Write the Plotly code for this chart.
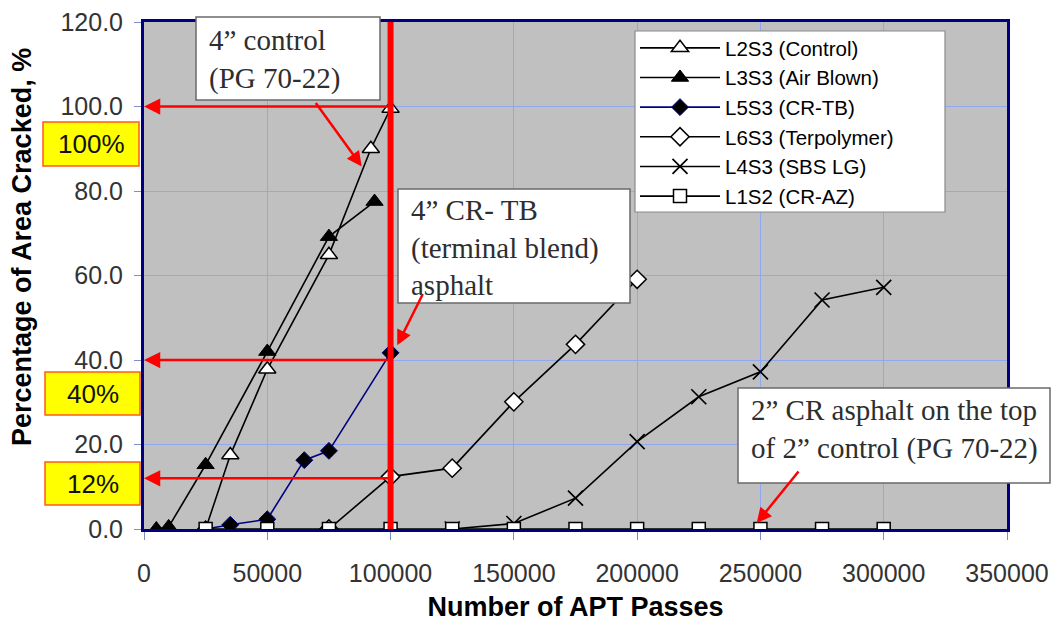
import plotly.graph_objects as go

# ---------------- data ----------------
l2s3_x = [25000, 35000, 50000, 75000, 92000, 100000]
l2s3_y = [0, 17.5, 37.8, 64.9, 90.0, 99.5]

l3s3_x = [5000, 10000, 25000, 50000, 75000, 93500]
l3s3_y = [0, 0.5, 15.2, 42.0, 69.2, 77.5]

l5s3_x = [25000, 35000, 50000, 65000, 75000, 100000]
l5s3_y = [0, 1.0, 2.3, 16.3, 18.5, 41.7]

l6s3_x = [75000, 100000, 125000, 150000, 175000, 200000]
l6s3_y = [0, 12.4, 14.4, 30.1, 43.7, 59.1]

l4s3_x = [125000, 150000, 175000, 200000, 225000, 250000, 275000, 300000]
l4s3_y = [0, 1.3, 7.3, 20.7, 31.3, 37.2, 54.2, 57.2]

l1s2_x = [25000, 50000, 75000, 100000, 125000, 150000, 175000, 200000,
          225000, 250000, 275000, 300000]
l1s2_y = [0, 0, 0, 0, 0, 0, 0, 0, 0, 0, 0, 0]

series_names = ["L2S3 (Control)", "L3S3 (Air Blown)", "L5S3 (CR-TB)",
                "L6S3 (Terpolymer)", "L4S3 (SBS LG)", "L1S2 (CR-AZ)"]

cutoff_passes = 100000
highlight_levels = [100, 40, 12]
highlight_labels = ["100%", "40%", "12%"]

x_ticks = [0, 50000, 100000, 150000, 200000, 250000, 300000, 350000]
y_ticks = [0, 20, 40, 60, 80, 100, 120]

x_title = "Number of APT Passes"
y_title = "Percentage of Area Cracked, %"

# ---------------- layout geometry ----------------
W, H = 1055, 625
ML, MR, MT, MB = 144, 48, 22, 96
PW = W - ML - MR
PH = H - MT - MB


def px(x):
    return (x - ML) / PW


def py(y):
    return (H - MB - y) / PH


fig = go.Figure()

line_w = 1.6
fig.add_trace(go.Scatter(
    x=l2s3_x, y=l2s3_y, name=series_names[0], mode="lines+markers",
    line=dict(color="black", width=line_w),
    marker=dict(symbol="triangle-up", size=15, color="white",
                line=dict(color="black", width=1.5))))
fig.add_trace(go.Scatter(
    x=l3s3_x, y=l3s3_y, name=series_names[1], mode="lines+markers",
    line=dict(color="black", width=line_w),
    marker=dict(symbol="triangle-up", size=15, color="black",
                line=dict(color="black", width=1))))
fig.add_trace(go.Scatter(
    x=l5s3_x, y=l5s3_y, name=series_names[2], mode="lines+markers",
    line=dict(color="#000080", width=line_w),
    marker=dict(symbol="diamond", size=13, color="black",
                line=dict(color="#000080", width=1))))
fig.add_trace(go.Scatter(
    x=l6s3_x, y=l6s3_y, name=series_names[3], mode="lines+markers",
    line=dict(color="black", width=line_w),
    marker=dict(symbol="diamond", size=14, color="white",
                line=dict(color="black", width=1.5))))
fig.add_trace(go.Scatter(
    x=l4s3_x, y=l4s3_y, name=series_names[4], mode="lines+markers",
    line=dict(color="black", width=line_w),
    marker=dict(symbol="x-thin", size=15, color="black",
                line=dict(color="black", width=1.7))))
fig.add_trace(go.Scatter(
    x=l1s2_x, y=l1s2_y, name=series_names[5], mode="lines+markers",
    line=dict(color="black", width=line_w),
    marker=dict(symbol="square", size=13, color="white",
                line=dict(color="black", width=1.5))))

shapes = []
annotations = []

# vertical red cutoff line
shapes.append(dict(type="line", xref="x", yref="y", x0=cutoff_passes, x1=cutoff_passes,
                   y0=0, y1=y_ticks[-1], line=dict(color="#FF0000", width=6), layer="above"))

# legend frame (legend itself drawn on top, transparent)
shapes.append(dict(type="rect", xref="paper", yref="paper",
                   x0=px(635), x1=px(945), y0=py(212), y1=py(31),
                   fillcolor="white", line=dict(color="#8a8a8a", width=1.2),
                   layer="above"))

# horizontal red arrows to y-axis
for lvl in highlight_levels:
    annotations.append(dict(x=0, y=lvl, ax=cutoff_passes, ay=lvl, xref="x", yref="y",
                            axref="x", ayref="y", text="", showarrow=True,
                            arrowhead=2, arrowsize=1.3, arrowwidth=2.5,
                            arrowcolor="#FF0000"))

# yellow percentage boxes
yellow_boxes = [(43, 122, 139, 166), (45, 372, 140, 415), (45, 462, 140, 505)]
for (x0, y0, x1, y1), lab in zip(yellow_boxes, highlight_labels):
    shapes.append(dict(type="rect", xref="paper", yref="paper",
                       x0=px(x0), x1=px(x1), y0=py(y1), y1=py(y0),
                       fillcolor="#FFFF00", line=dict(color="#FF5A1E", width=1.5),
                       layer="above"))
    annotations.append(dict(x=px((x0 + x1) / 2), y=py((y0 + y1) / 2), xref="paper",
                            yref="paper", text=lab, showarrow=False,
                            xanchor="center", yanchor="middle",
                            font=dict(family="Liberation Sans, Arial", size=26,
                                      color="#111111")))

# callout boxes
serif = "Liberation Serif, Times New Roman, serif"
callouts = [
    ((196, 17, 380, 100), 207, 59, "4” control<br>(PG 70-22)"),
    ((398, 189, 630, 303), 409, 247, "4” CR- TB<br>(terminal blend)<br>asphalt"),
    ((738, 388, 1050, 483), 749, 429, "2” CR asphalt on the top<br>of 2” control (PG 70-22)"),
]
for (x0, y0, x1, y1), tx, ty, txt in callouts:
    shapes.append(dict(type="rect", xref="paper", yref="paper",
                       x0=px(x0), x1=px(x1), y0=py(y1), y1=py(y0),
                       fillcolor="white", line=dict(color="#6a6a6a", width=1.5),
                       layer="above"))
    annotations.append(dict(x=px(tx), y=py(ty), xref="paper", yref="paper", text=txt,
                            showarrow=False, xanchor="left", yanchor="middle",
                            align="left",
                            font=dict(family=serif, size=29, color="#2e2e2e")))

# red pointer arrows (head in data coords, tail offset in px)
pointers = [(88300, 85.8, -47, -65), (102700, 43.5, 26, -52), (248500, 1.4, 43, -53)]
for hx, hy, ax, ay in pointers:
    annotations.append(dict(x=hx, y=hy, xref="x", yref="y", ax=ax, ay=ay, text="",
                            showarrow=True, arrowhead=2, arrowsize=1.2,
                            arrowwidth=2.5, arrowcolor="#FF0000"))

title_font = dict(family="Liberation Sans, Arial", size=27, color="black")

# y-axis title as rotated text
annotations.append(dict(x=px(22), y=py(247), xref="paper", yref="paper",
                        text="<b>" + y_title + "</b>", textangle=-90, showarrow=False,
                        xanchor="center", yanchor="middle", font=title_font))

grid_c = "#8FA8F0"
axis_c = "#000080"
tick_font = dict(family="Liberation Sans, Arial", size=25, color="#333333")

fig.update_layout(
    width=W, height=H,
    margin=dict(l=ML, r=MR, t=MT, b=MB, pad=0, autoexpand=False),
    paper_bgcolor="white",
    plot_bgcolor="#C0C0C0",
    showlegend=True,
    legend=dict(x=px(635), y=py(28), xanchor="left", yanchor="top",
                bgcolor="rgba(0,0,0,0)", borderwidth=0,
                font=dict(family="Liberation Sans, Arial", size=20.5, color="black"),
                itemwidth=80, tracegroupgap=0),
    xaxis=dict(range=[0, 350000], tickvals=x_ticks, tickformat="d",
               showgrid=True, gridcolor=grid_c, gridwidth=1, zeroline=False,
               showline=True, linecolor=axis_c, linewidth=3, mirror=True,
               ticks="outside", ticklen=8, tickcolor="#7F8FC8", tickwidth=1,
               tickfont=tick_font, ticklabelstandoff=12, automargin=False,
               title=dict(text="<b>" + x_title + "</b>", font=title_font, standoff=12)),
    yaxis=dict(range=[0, 120], tickvals=y_ticks, tickformat=".1f",
               showgrid=True, gridcolor=grid_c, gridwidth=1, zeroline=False,
               showline=True, linecolor=axis_c, linewidth=3, mirror=True,
               ticks="outside", ticklen=7, tickcolor="#7F8FC8", tickwidth=1,
               tickfont=tick_font, ticklabelstandoff=6, automargin=False),
    shapes=shapes,
    annotations=annotations,
)

fig.write_html("out.html")
